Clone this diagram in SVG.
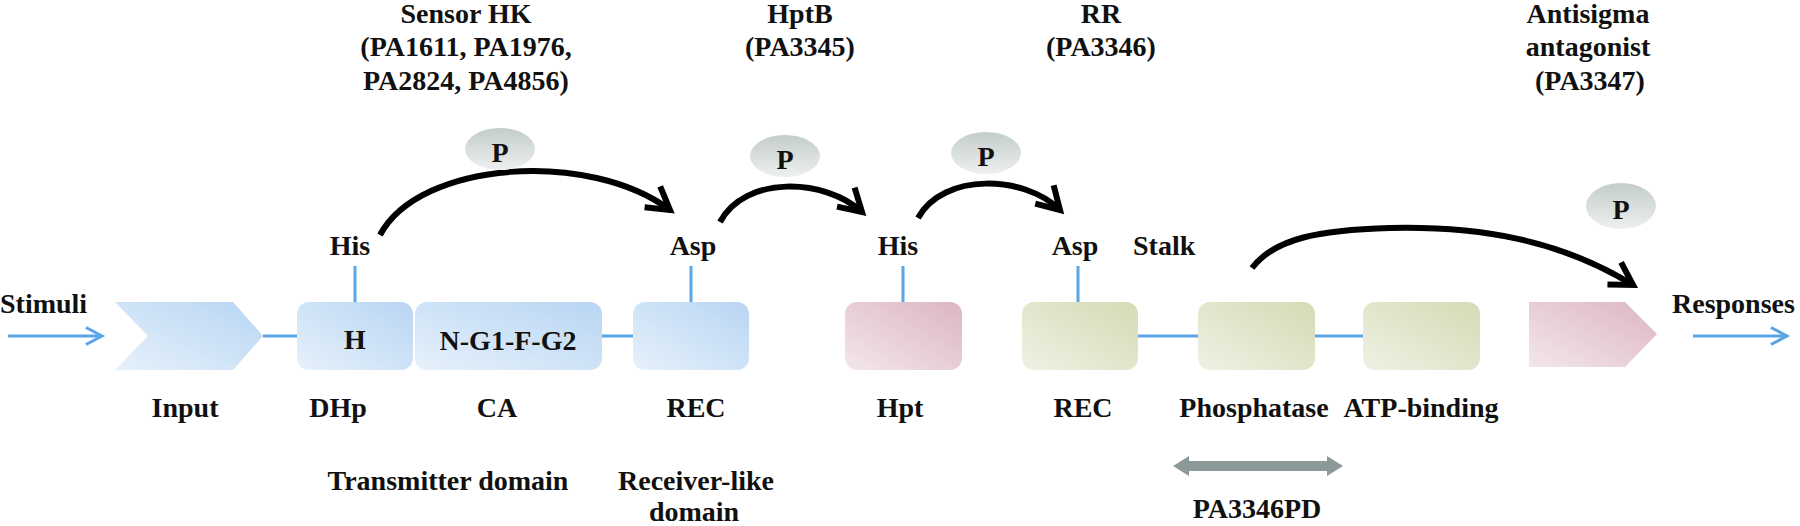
<svg xmlns="http://www.w3.org/2000/svg" width="1800" height="526" viewBox="0 0 1800 526">
<style>
text{font-family:"Liberation Serif","Times New Roman",serif;font-weight:bold;font-size:28px;fill:#111;}
.c{text-anchor:middle;}
.blue{fill:url(#gBlue);}
.pink{fill:url(#gPink);}
.olive{fill:url(#gOlive);}
.pb{fill:url(#gP);}
.link{stroke:#5ba4e5;stroke-width:3;fill:none;}
.arc{stroke:#000;stroke-width:6;fill:none;stroke-linecap:butt;marker-end:url(#vhead);}
.flow{stroke:#5ba4e5;stroke-width:3;fill:none;marker-end:url(#bhead);}
</style>
<defs>
<linearGradient id="gBlue" x1="0" y1="1" x2="1" y2="0">
<stop offset="0" stop-color="#e6f1fb"/><stop offset="1" stop-color="#b8d5f3"/>
</linearGradient>
<linearGradient id="gPink" x1="0" y1="1" x2="1" y2="0">
<stop offset="0" stop-color="#f3e6ec"/><stop offset="1" stop-color="#dcb5c4"/>
</linearGradient>
<linearGradient id="gOlive" x1="0" y1="1" x2="1" y2="0">
<stop offset="0" stop-color="#eff1e4"/><stop offset="1" stop-color="#d6dab4"/>
</linearGradient>
<linearGradient id="gP" x1="0" y1="0" x2="0" y2="1">
<stop offset="0" stop-color="#c4cdca"/><stop offset="1" stop-color="#edf0ef"/>
</linearGradient>
<marker id="vhead" markerUnits="userSpaceOnUse" markerWidth="40" markerHeight="40" viewBox="-30 -20 40 40" refX="0" refY="0" orient="auto" overflow="visible">
<path d="M-22,-13 L0,0 L-22,13" fill="none" stroke="#000" stroke-width="6" stroke-linejoin="miter"/>
</marker>
<marker id="bhead" markerUnits="userSpaceOnUse" markerWidth="30" markerHeight="30" viewBox="-20 -15 30 30" refX="0" refY="0" orient="auto" overflow="visible">
<path d="M-16,-8.5 L0,0 L-16,8.5" fill="none" stroke="#5ba4e5" stroke-width="3"/>
</marker>
</defs>

<g id="labels-top">
<text class="c" x="466" y="23">Sensor HK</text>
<text class="c" x="466" y="56">(PA1611, PA1976,</text>
<text class="c" x="466" y="90">PA2824, PA4856)</text>
<text class="c" x="800" y="23">HptB</text>
<text class="c" x="800" y="56">(PA3345)</text>
<text class="c" x="1101" y="23">RR</text>
<text class="c" x="1101" y="56">(PA3346)</text>
<text class="c" x="1588" y="23">Antisigma</text>
<text class="c" x="1588" y="56">antagonist</text>
<text class="c" x="1590" y="90">(PA3347)</text>
</g>

<g id="connectors">
<line class="flow" x1="8" y1="336" x2="102" y2="336"/>
<line class="flow" x1="1693" y1="336" x2="1787" y2="336"/>
<line class="link" x1="263" y1="336" x2="297" y2="336"/>
<line class="link" x1="602" y1="336" x2="633" y2="336"/>
<line class="link" x1="1138" y1="336" x2="1198" y2="336"/>
<line class="link" x1="1315" y1="336" x2="1363" y2="336"/>
<line class="link" x1="355" y1="266" x2="355" y2="302"/>
<line class="link" x1="691" y1="266" x2="691" y2="302"/>
<line class="link" x1="903" y1="266" x2="903" y2="302"/>
<line class="link" x1="1078" y1="266" x2="1078" y2="302"/>
<path class="arc" d="M380,235 C420,160 590,150 670,210"/>
<path class="arc" d="M720,222 C745,175 825,178 862,212"/>
<path class="arc" d="M918,218 C943,172 1025,175 1060,210"/>
<path class="arc" d="M1252,268 C1275,238 1320,230 1390,228 C1480,226 1560,240 1633,285"/>
</g>

<g id="stimuli"><text x="0" y="313">Stimuli</text></g>
<g id="responses"><text x="1672" y="313">Responses</text></g>

<g id="input">
<polygon class="blue" points="115,302 233,302 263,336 233,370 115,370 148,336"/>
<text class="c" x="185" y="417">Input</text>
</g>
<g id="dhp">
<rect class="blue" x="297" y="302" width="116" height="68" rx="12"/>
<text class="c" x="355" y="349">H</text>
<text class="c" x="350" y="255">His</text>
<text class="c" x="338" y="417">DHp</text>
</g>
<g id="ca">
<rect class="blue" x="415" y="302" width="187" height="68" rx="12"/>
<text class="c" x="508" y="350">N-G1-F-G2</text>
<text class="c" x="497" y="417">CA</text>
</g>
<g id="rec1">
<rect class="blue" x="633" y="302" width="116" height="68" rx="12"/>
<text class="c" x="693" y="255">Asp</text>
<text class="c" x="696" y="417">REC</text>
</g>
<g id="hpt">
<rect class="pink" x="845" y="302" width="117" height="68" rx="12"/>
<text class="c" x="898" y="255">His</text>
<text class="c" x="900" y="417">Hpt</text>
</g>
<g id="rec2">
<rect class="olive" x="1022" y="302" width="116" height="68" rx="12"/>
<text class="c" x="1075" y="255">Asp</text>
<text class="c" x="1083" y="417">REC</text>
</g>
<g id="stalk"><text x="1133" y="255">Stalk</text></g>
<g id="phosphatase">
<rect class="olive" x="1198" y="302" width="117" height="68" rx="12"/>
<text class="c" x="1254" y="417">Phosphatase</text>
</g>
<g id="atp">
<rect class="olive" x="1363" y="302" width="117" height="68" rx="12"/>
<text class="c" x="1421" y="417">ATP-binding</text>
</g>
<g id="antisigma">
<polygon class="pink" points="1529,302 1625,302 1657,334 1625,367 1529,367"/>
</g>

<g id="p1"><ellipse class="pb" cx="500" cy="149" rx="35" ry="21"/><text class="c" x="500" y="162">P</text></g>
<g id="p2"><ellipse class="pb" cx="785" cy="156" rx="35" ry="21"/><text class="c" x="785" y="169">P</text></g>
<g id="p3"><ellipse class="pb" cx="986" cy="153" rx="35" ry="21"/><text class="c" x="986" y="166">P</text></g>
<g id="p4"><ellipse class="pb" cx="1621" cy="206" rx="35" ry="23"/><text class="c" x="1621" y="219">P</text></g>

<g id="domains">
<text class="c" x="448" y="490">Transmitter domain</text>
<text class="c" x="696" y="490">Receiver-like</text>
<text class="c" x="694" y="521">domain</text>
</g>
<g id="pa3346pd">
<polygon fill="#8b9a98" points="1173,466 1189,456 1189,461 1327,461 1327,456 1343,466 1327,476 1327,471 1189,471 1189,476"/>
<text class="c" x="1257" y="518">PA3346PD</text>
</g>
</svg>
